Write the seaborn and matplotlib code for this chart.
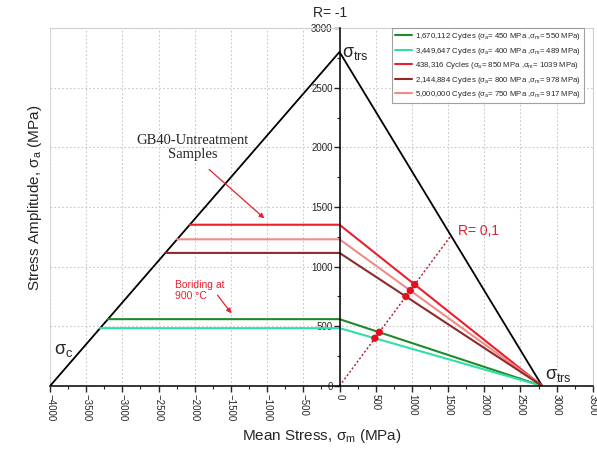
import matplotlib
matplotlib.use("Agg")
import matplotlib.pyplot as plt
from matplotlib.lines import Line2D
from matplotlib.ticker import MultipleLocator
import numpy as np
import pandas as pd
import seaborn as sns

# Material limits (MPa)
sigma_trs = 2800.0
sigma_c = -4000.0

# Fatigue test series
cycles = ["1,670,112", "3,449,647", "438,316", "2,144,884", "5,000,000"]
sigma_a = [450, 400, 850, 800, 750]
sigma_m = [550, 489, 1039, 978, 917]
legend_colors = ["#1f8a2a", "#2fe0a6", "#e8202e", "#8e2a2a", "#f28a8a"]
curve_colors = ["#1f8a2a", "#2fe0a6", "#e8202e", "#f28a8a", "#8e2a2a"]
point_color = "#e0101e"

x_ticks = list(range(-4000, 3501, 500))
y_ticks = list(range(0, 3001, 500))

sns.set_theme(style="white")
plt.rcParams["font.family"] = ["Liberation Sans", "DejaVu Sans"]
plt.rcParams["mathtext.fontset"] = "custom"
plt.rcParams["mathtext.rm"] = "Liberation Sans"
plt.rcParams["mathtext.it"] = "Liberation Sans"

fig = plt.figure(figsize=(5.97, 4.53), dpi=100)
ax = fig.add_axes([0.0838, 0.148, 0.9092, 0.790])

# Build Goodman-type curves: horizontal at the endurance level, then to sigma_trs
rows = []
for name, sa, sm in zip(cycles, sigma_a, sigma_m):
    se = sa / (1.0 - sm / sigma_trs)
    x_left = sigma_c * (1.0 - se / sigma_trs)
    for x, y in [(x_left, se), (0.0, se), (sigma_trs, 0.0)]:
        rows.append({"series": name, "sm": x, "sa": y})
curves = pd.DataFrame(rows)

# Envelope triangle
tri = pd.DataFrame({"sm": [sigma_c, 0.0, sigma_trs], "sa": [0.0, sigma_trs, 0.0]})
sns.lineplot(data=tri, x="sm", y="sa", sort=False, color="black", lw=1.3, ax=ax,
             legend=False, zorder=3)

sns.lineplot(data=curves, x="sm", y="sa", hue="series", hue_order=cycles,
             palette=dict(zip(cycles, curve_colors)), sort=False, lw=1.5,
             ax=ax, legend=False, zorder=4)

# R = 0.1 load line
R = 0.1
slope = (1 - R) / (1 + R)
x_end = sigma_trs / (1 + slope)
load = pd.DataFrame({"sm": [0.0, x_end], "sa": [0.0, slope * x_end]})
sns.lineplot(data=load, x="sm", y="sa", sort=False, color="#b01c2a", lw=1.0,
             linestyle=(0, (1.5, 1.5)), ax=ax, legend=False, zorder=4)

pts = pd.DataFrame({"sm": sigma_m, "sa": sigma_a})
sns.scatterplot(data=pts, x="sm", y="sa", color=point_color, s=28,
                edgecolor="none", ax=ax, zorder=6)

ax.set_xlim(-4000, 3500)
ax.set_ylim(0, 3000)
ax.set_xticks(x_ticks)
ax.set_yticks(y_ticks)
ax.xaxis.set_minor_locator(MultipleLocator(250))
ax.yaxis.set_minor_locator(MultipleLocator(250))
ax.grid(True, which="major", color="#c8c8c8", linestyle=(0, (1.5, 2)), lw=0.8)
ax.set_axisbelow(True)

ax.spines["left"].set_position(("data", 0))
for s in ["left", "bottom"]:
    ax.spines[s].set_color("black")
    ax.spines[s].set_linewidth(1.1)
    ax.spines[s].set_zorder(5)
for s in ["top", "right"]:
    ax.spines[s].set_color("#d0d0d0")
    ax.spines[s].set_linewidth(0.8)
ax.axvline(-4000, color="#d0d0d0", lw=1.2, zorder=1)

ax.tick_params(axis="x", which="major", direction="out", length=4, width=1,
               labelsize=7, pad=2, bottom=True)
ax.tick_params(axis="x", which="minor", direction="out", length=2.5, width=0.8,
               bottom=True)
ax.tick_params(axis="y", which="major", direction="out", length=4, width=1,
               labelsize=7, pad=1, left=True)
ax.tick_params(axis="y", which="minor", direction="out", length=2.5, width=0.8,
               left=True)
for lbl in ax.get_xticklabels():
    lbl.set_rotation(-90)

ax.set_xlabel(r"Mean Stress, $\sigma_{\rm m}$ (MPa)", fontsize=11, labelpad=4)
ax.set_ylabel("")
fig.text(0.059, 0.563, r"Stress Amplitude, $\sigma_{\rm a}$ (MPa)", fontsize=11,
         rotation=90, ha="center", va="center")

# Annotations
ax.text(-130, 3070, "R= -1", fontsize=10, ha="center", va="bottom", clip_on=False)
ax.text(40, 2790, r"$\sigma_{\rm trs}$", fontsize=13, ha="left", va="center")
ax.text(2840, 90, r"$\sigma_{\rm trs}$", fontsize=13, ha="left", va="center")
ax.text(-3940, 300, r"$\sigma_{\rm c}$", fontsize=13, ha="left", va="center")
ax.text(1640, 1300, "R= 0,1", fontsize=10, color="#e0202e", ha="left", va="center")
ax.text(-2030, 2000, "GB40-Untreatment\nSamples", fontsize=10.5,
        family="Liberation Serif", ha="center", va="center", linespacing=1.05)
ax.annotate("", xy=(-1010, 1390), xytext=(-1830, 1830),
            arrowprops=dict(arrowstyle="-|>", color="#e8202e", lw=0.9,
                            mutation_scale=7))
ax.text(-2270, 800, "Boriding at\n900 \u00b0C", fontsize=7.5, color="#e8202e",
        ha="left", va="center", linespacing=1.2)
ax.annotate("", xy=(-1470, 590), xytext=(-1710, 780),
            arrowprops=dict(arrowstyle="-|>", color="#e8202e", lw=0.9,
                            mutation_scale=7))

handles = [Line2D([], [], color=c, lw=1.5) for c in legend_colors]
labels = [rf"{n} Cycles ($\sigma_{{\rm a}}$= {a} MPa ,$\sigma_{{\rm m}}$= {m} MPa)"
          for n, a, m in zip(cycles, sigma_a, sigma_m)]
leg = ax.legend(handles, labels, loc="upper right", bbox_to_anchor=(0.983, 1.0),
                fontsize=5.6, frameon=True, fancybox=False, handlelength=2.2,
                handletextpad=0.3, borderpad=0.4, labelspacing=0.45,
                borderaxespad=0.0)
leg.get_frame().set_edgecolor("#8a8a8a")
leg.get_frame().set_linewidth(0.8)

fig.savefig("out.png", dpi=100)
